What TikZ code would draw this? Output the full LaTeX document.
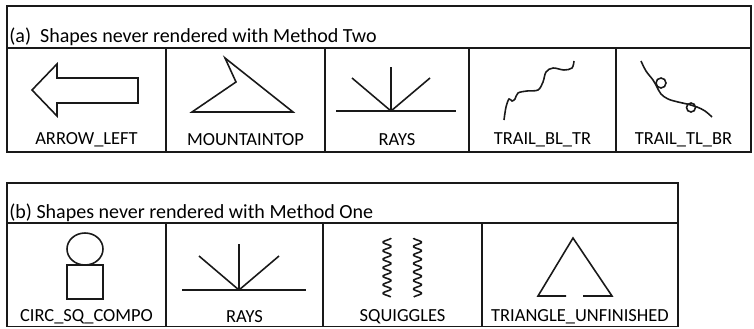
\documentclass[tikz,border=0pt]{standalone}
\usepackage{fontspec}
\setmainfont{Carlito}
\begin{document}
\begin{tikzpicture}[x=0.02cm,y=-0.02cm,
  frame/.style={line width=1.1pt, draw=black!90},
  glyph/.style={line width=0.9pt, draw=black!90, line join=miter},
  caption/.style={font=\fontsize{10.5}{12}\selectfont, inner sep=0pt},
  heading/.style={font=\fontsize{11.4}{13}\selectfont, inner sep=0pt, anchor=base west}]
\useasboundingbox (0,0) rectangle (754,328);

% ---------- panel (a) ----------
\draw[frame] (7,6) rectangle (751,152);
\draw[frame] (7,48) -- (751,48);
\foreach \x in {166,325,469,616} \draw[frame] (\x,48) -- (\x,152);
\node[heading] (titleA) at (9,42) {(a)\ \ Shapes never rendered with Method Two};

% arrow pointing left
\draw[glyph] (32,90) -- (57,64) -- (57,78) -- (138,78) -- (138,103) -- (57,103) -- (57,116) -- cycle;
\node[caption] (capArrow) at (86.5,140) {ARROW\_LEFT};

% mountain top
\draw[glyph] (225,58) -- (236,82) -- (192,112) -- (293,112) -- cycle;
\node[caption] (capMountain) at (245.5,140) {MOUNTAINTOP};

% rays
\coordinate (raysA) at (391,111);
\draw[glyph] (336,111) -- (456,111);
\draw[glyph] (raysA) -- (391,67);
\draw[glyph] (raysA) -- (352,78);
\draw[glyph] (raysA) -- (430,78);
\node[caption] (capRaysA) at (397,140) {RAYS};

% trail from bottom left to top right
\draw[glyph] plot[smooth, tension=0.55] coordinates {(504,120) (506,107) (509,99) (512,101) (515,99) (518,93) (527,91) (538,90) (543,82) (546,72) (553,68) (564,70) (572,68) (574,61)};
\node[caption] (capTrailA) at (542.5,140) {TRAIL\_BL\_TR};

% trail from top left to bottom right, with two small loops
\draw[glyph] plot[smooth, tension=0.6] coordinates {(641,61) (646,71) (653,80) (657,87) (661,94) (668,99) (678,102) (687,104) (697,107) (705,111) (712,117)};
\draw[glyph] (661,83) circle[radius=5];
\draw[glyph] (691,107.5) circle[radius=4.5];
\node[caption] (capTrailB) at (683.5,140) {TRAIL\_TL\_BR};

% ---------- panel (b) ----------
\draw[frame] (7,183) rectangle (678,326.5);
\draw[frame] (7,223) -- (678,223);
\foreach \x in {166,323,482} \draw[frame] (\x,223) -- (\x,326.5);
\node[heading] (titleB) at (9,218) {(b) Shapes never rendered with Method One};

% circle on top of a square
\draw[glyph] (85,249) ellipse[x radius=18, y radius=16];
\draw[glyph] (67,265) rectangle (103,299);
\node[caption] (capCirc) at (86.5,317) {CIRC\_SQ\_COMPO};

% rays
\coordinate (raysB) at (239,290);
\draw[glyph] (182,290) -- (306,290);
\draw[glyph] (raysB) -- (239,244);
\draw[glyph] (raysB) -- (199,256);
\draw[glyph] (raysB) -- (279,256);
\node[caption] (capRaysB) at (244.5,317) {RAYS};

% two vertical squiggles (period 8.5 units)
\draw[glyph, line join=round] plot[domain=0:59, samples=140, variable=\t] ({387+4*cos(\t*42.35)}, {238+\t});
\draw[glyph, line join=round] plot[domain=0:59, samples=140, variable=\t] ({417.5-4*cos(\t*42.35)}, {238+\t});
\node[caption] (capSquig) at (402.5,317) {SQUIGGLES};

% triangle with a gap in its base
\draw[glyph] (566,296) -- (538,296) -- (573,238) -- (612,296) -- (583,296);
\node[caption] (capTri) at (580,317) {TRIANGLE\_UNFINISHED};
\end{tikzpicture}
\end{document}
